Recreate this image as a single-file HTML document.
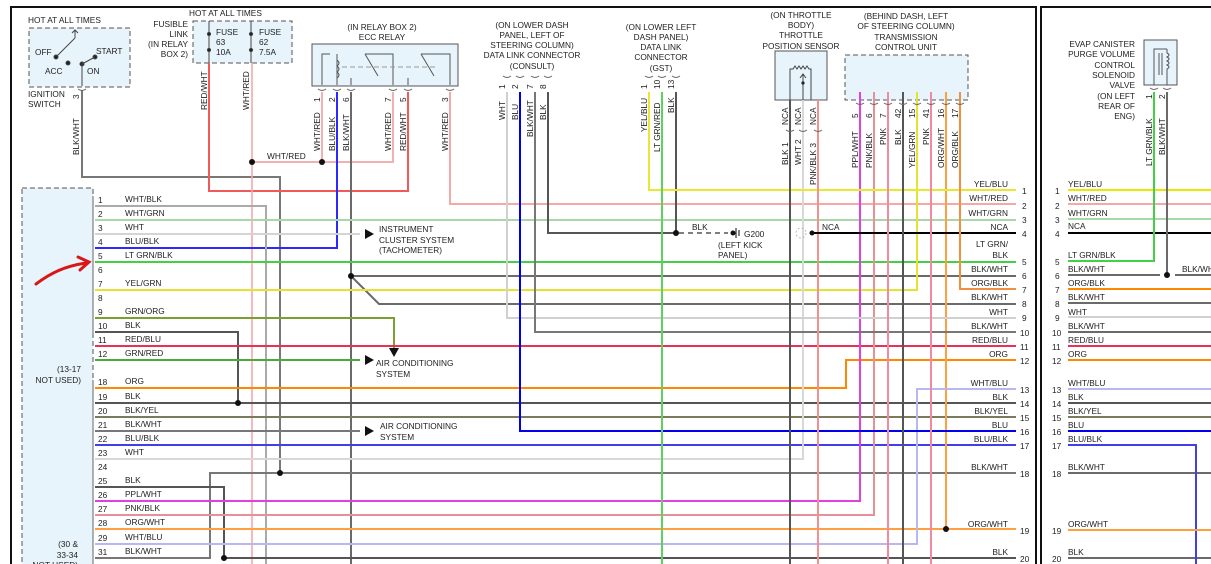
<!DOCTYPE html>
<html><head><meta charset="utf-8"><style>
html,body{margin:0;padding:0;background:#fff;}
svg{display:block;font-family:"Liberation Sans",sans-serif;font-size:8.3px;fill:#222;}
.w{fill:none;stroke-width:2;}
.t{fill:none;stroke-width:1.6;}
.r{text-anchor:end}.m{text-anchor:middle}
</style></head><body>
<svg width="1211" height="564" viewBox="0 0 1211 564" xmlns="http://www.w3.org/2000/svg">
<!-- frames -->
<path d="M11,564 V7 H1036 V564" fill="none" stroke="#111" stroke-width="2"/>
<path d="M1041,564 V7 H1211" fill="none" stroke="#111" stroke-width="2"/>

<!-- component boxes -->
<rect x="29" y="28" width="101" height="59" fill="#e8f4fb" stroke="#555" stroke-dasharray="5,3"/>
<rect x="193" y="21" width="99" height="42" fill="#e8f4fb" stroke="#555" stroke-dasharray="5,3"/>
<rect x="312" y="44" width="146" height="42" fill="#e8f4fb" stroke="#555"/>
<rect x="775" y="51" width="52" height="49" fill="#e8f4fb" stroke="#555"/>
<rect x="845" y="55" width="123" height="45" fill="#e8f4fb" stroke="#555" stroke-dasharray="5,3"/>
<rect x="1144" y="40" width="33" height="45" fill="#e8f4fb" stroke="#555"/>
<rect x="22" y="188" width="71" height="380" fill="#e8f4fb" stroke="#555" stroke-dasharray="5,3"/>

<!-- ignition switch internals -->
<g stroke="#444" fill="#222">
<line x1="56" y1="57" x2="75" y2="38"/><path d="M72,33 l3,-3 l3,3" fill="none"/><line x1="75" y1="30" x2="75" y2="38"/>
<circle cx="56" cy="57" r="2"/><circle cx="68" cy="63" r="2"/><circle cx="82" cy="64" r="2"/><circle cx="95" cy="57" r="2"/>
<line x1="82" y1="64" x2="95" y2="57"/><line x1="82" y1="64" x2="82" y2="86"/>
</g>
<!-- fuses -->
<g stroke="#444" fill="#222">
<line x1="209" y1="21" x2="209" y2="63"/><line x1="251" y1="21" x2="251" y2="63"/>
<circle cx="209" cy="34" r="1.6"/><circle cx="209" cy="50" r="1.6"/><circle cx="251" cy="34" r="1.6"/><circle cx="251" cy="50" r="1.6"/>
</g>
<!-- relay internals -->
<g stroke="#555" fill="none">
<path d="M322,85 V54 H330 M337,85 V54 M351,85 V78 M365,54 L378,76 M393,85 V54 H365 M408,85 V78 M421,54 L434,76 M450,85 V54 H421"/>
<path d="M337,60 q4,3 0,6 q4,3 0,6 q4,3 0,6" />
<path d="M342,67 H438" stroke-dasharray="5,3" stroke="#999"/>
</g>
<!-- TPS internals -->
<g stroke="#444" fill="none"><path d="M790,100 V69 H793 l2,-3 l2,3 l2,-3 l2,3 l2,-3 l2,3 l2,-3 l2,3 h2 V100 M803,100 V74 M800,78 l3,-4 l3,4"/></g>
<circle cx="803" cy="83" r="1.6" fill="#222"/>
<!-- evap internals -->
<g stroke="#555" fill="none"><path d="M1154,85 V49 H1167 M1159,53 V75 M1162,53 V75 M1167,49 v4 q4,2 0,4 q4,2 0,4 q4,2 0,4 q4,2 0,4 V85"/></g>

<!-- WIRES -->
<g class="w">
<path d="M82,90 V177 H280 V473" stroke="#777"/>
<path d="M209,63 V191 H408 V92" stroke="#f05a5a"/>
<path d="M252,63 V564" stroke="#f4a8a8" class="t"/>
<path d="M252,162 H393 V92 M322,92 V162" stroke="#f4b0b0"/>
<path d="M337,92 V248 H95" stroke="#2a2aff"/>
<path d="M351,92 V564 M351,276 H1016 M351,276 L379,304 H1016" stroke="#6a6a6a"/>
<path d="M450,92 V204 H1016" stroke="#f4a8a8"/>
<path d="M95,206 H266 V564" stroke="#aaa"/>
<path d="M95,220 H1016" stroke="#a8d8a8"/>
<path d="M95,234 H360" stroke="#d4d4d4"/>
<path d="M95,262 H1016" stroke="#44d044"/>
<path d="M95,290 H917 V92" stroke="#e4e430"/>
<path d="M95,318 H394 V348" stroke="#7aa030"/>
<path d="M95,332 H238 V403" stroke="#555"/>
<path d="M95,346 H1016" stroke="#e8305a"/>
<path d="M95,360 H360" stroke="#4aaa3a"/>
<path d="M95,388 H846 V360 H1016" stroke="#ff8800"/>
<path d="M95,403 H1016" stroke="#555"/>
<path d="M95,417 H1016" stroke="#7a7a60"/>
<path d="M95,431 H360" stroke="#777"/>
<path d="M95,445 H1016" stroke="#4040e8"/>
<path d="M95,459 H803 V100" stroke="#d8d8d8"/>
<path d="M95,558 H210 V473 H1016" stroke="#777"/>
<path d="M95,487 H224 V558 H1016" stroke="#555"/>
<path d="M95,501 H860 V92" stroke="#e040e0"/>
<path d="M95,515 H874 V92" stroke="#e89098"/>
<path d="M95,529 H1016 M946,92 V529" stroke="#ffa040"/>
<path d="M95,544 H917 V389 H1016" stroke="#b8b8f0"/>
<path d="M507,92 V318 H1016" stroke="#d0d0d0"/>
<path d="M520,92 V431 H1016" stroke="#0000ee"/>
<path d="M535,92 V332 H1016" stroke="#777"/>
<path d="M548,92 V233 H676 V92" stroke="#555"/>
<path d="M649,92 V190 H1016" stroke="#e8e830"/>
<path d="M662,92 V564" stroke="#60d060"/>
<path d="M790,100 V564" stroke="#555"/>
<path d="M818,100 V564" stroke="#f09090"/>
<path d="M812,233 H1016" stroke="#000"/>
<path d="M888,92 V564 M931,92 V564" stroke="#f08aa0"/>
<path d="M903,92 V564" stroke="#555"/>
<path d="M960,92 V289 H1016" stroke="#f09040"/>
<!-- right frame -->
<path d="M1068,190 H1211" stroke="#e8e800"/>
<path d="M1068,204 H1211" stroke="#f4a8a8"/>
<path d="M1068,219 H1211" stroke="#a8d8a8"/>
<path d="M1068,233 H1211" stroke="#000"/>
<path d="M1068,261 H1154 V92" stroke="#44d044"/>
<path d="M1068,275 H1160 M1175,275 H1211 M1167,92 V275" stroke="#6a6a6a"/>
<path d="M1068,289 H1211 M1068,360 H1211" stroke="#ff8800"/>
<path d="M1068,303 H1211 M1068,332 H1211 M1068,473 H1211 M1068,558 H1211" stroke="#6a6a6a"/>
<path d="M1068,317 H1211" stroke="#d0d0d0"/>
<path d="M1068,346 H1211" stroke="#e8305a"/>
<path d="M1068,389 H1211" stroke="#b8b8f0"/>
<path d="M1068,403 H1211" stroke="#555"/>
<path d="M1068,417 H1211" stroke="#7a7a60"/>
<path d="M1068,431 H1211" stroke="#0000ee"/>
<path d="M1068,445 H1196 V564" stroke="#4040e8"/>
<path d="M1068,530 H1211" stroke="#ffa040"/>
</g>
<!-- dots -->
<g fill="#111">
<circle cx="252" cy="162" r="3"/><circle cx="322" cy="162" r="3"/><circle cx="351" cy="276" r="3"/>
<circle cx="238" cy="403" r="3"/><circle cx="280" cy="473" r="3"/><circle cx="224" cy="558" r="3"/>
<circle cx="676" cy="233" r="3"/><circle cx="946" cy="529" r="3"/><circle cx="812" cy="233" r="2.5"/>
<circle cx="1167" cy="275" r="3"/><circle cx="733" cy="233" r="2.5"/>
</g>
<!-- ground, NCA -->
<path d="M679,233 H728" stroke="#555" stroke-width="1.5" stroke-dasharray="5,4" fill="none"/>
<path d="M736,228 V238 M739,230 V236" stroke="#333" stroke-width="1.2"/>
<circle cx="801" cy="233" r="5" fill="none" stroke="#bbb" stroke-dasharray="2,2"/>
<!-- arrows -->
<g fill="#111"><path d="M365,229 L374,234 L365,239Z"/><path d="M365,355 L374,360 L365,365Z"/><path d="M365,426 L374,431 L365,436Z"/><path d="M389,348 L399,348 L394,357Z"/></g>
<!-- red annotation arrow -->
<path d="M36,284 C52,272 66,266 86,263" stroke="#d81818" stroke-width="3" fill="none" stroke-linecap="round"/>
<path d="M78,257 L89,262 L80,270" stroke="#d81818" stroke-width="3" fill="none" stroke-linecap="round"/>
<!-- pin caps -->
<g stroke="#666" fill="none" stroke-width="1">
<path d="M78,89 q4,3 8,0 M318,89 q4,3 8,0 M333,89 q4,3 8,0 M347,89 q4,3 8,0 M389,89 q4,3 8,0 M404,89 q4,3 8,0 M446,89 q4,3 8,0 M503,76 q4,3 8,0 M516,76 q4,3 8,0 M531,76 q4,3 8,0 M544,76 q4,3 8,0 M645,76 q4,3 8,0 M658,76 q4,3 8,0 M672,76 q4,3 8,0 M856,103 q4,3 8,0 M870,103 q4,3 8,0 M884,103 q4,3 8,0 M899,103 q4,3 8,0 M913,103 q4,3 8,0 M927,103 q4,3 8,0 M942,103 q4,3 8,0 M956,103 q4,3 8,0 M786,130 q4,3 8,0 M799,130 q4,3 8,0 M814,130 q4,3 8,0 M1150,88 q4,3 8,0 M1163,88 q4,3 8,0"/>
<path d="M93,196 v138 M93,380 v184"/>
</g>

<!-- TOP LABELS -->
<text x="28" y="23">HOT AT ALL TIMES</text>
<text x="35" y="55">OFF</text><text x="96" y="54">START</text><text x="45" y="74">ACC</text><text x="87" y="74">ON</text>
<text x="28" y="97">IGNITION</text><text x="28" y="107">SWITCH</text>
<text transform="translate(79,99) rotate(-90)">3</text>
<text transform="translate(79,155) rotate(-90)">BLK/WHT</text>
<text x="189" y="16">HOT AT ALL TIMES</text>
<text class="r" x="188" y="27">FUSIBLE</text><text class="r" x="188" y="37">LINK</text><text class="r" x="188" y="47">(IN RELAY</text><text class="r" x="188" y="57">BOX 2)</text>
<text x="216" y="35">FUSE</text><text x="216" y="45">63</text><text x="216" y="55">10A</text>
<text x="259" y="35">FUSE</text><text x="259" y="45">62</text><text x="259" y="55">7.5A</text>
<text transform="translate(207,110) rotate(-90)">RED/WHT</text>
<text transform="translate(249,110) rotate(-90)">WHT/RED</text>
<text class="m" x="382" y="30">(IN RELAY BOX 2)</text><text class="m" x="382" y="40">ECC RELAY</text>
<text transform="translate(320,102) rotate(-90)">1</text><text transform="translate(335,102) rotate(-90)">2</text><text transform="translate(349,102) rotate(-90)">6</text>
<text transform="translate(391,102) rotate(-90)">7</text><text transform="translate(406,102) rotate(-90)">5</text><text transform="translate(448,102) rotate(-90)">3</text>
<text transform="translate(320,151) rotate(-90)">WHT/RED</text><text transform="translate(335,151) rotate(-90)">BLU/BLK</text><text transform="translate(349,151) rotate(-90)">BLK/WHT</text>
<text transform="translate(391,151) rotate(-90)">WHT/RED</text><text transform="translate(406,151) rotate(-90)">RED/WHT</text><text transform="translate(448,151) rotate(-90)">WHT/RED</text>
<text x="267" y="159">WHT/RED</text>

<text class="m" x="532" y="28">(ON LOWER DASH</text><text class="m" x="532" y="38">PANEL, LEFT OF</text><text class="m" x="532" y="48">STEERING COLUMN)</text><text class="m" x="532" y="58">DATA LINK CONNECTOR</text><text class="m" x="532" y="69">(CONSULT)</text>
<text transform="translate(505,89) rotate(-90)">1</text><text transform="translate(518,89) rotate(-90)">2</text><text transform="translate(533,89) rotate(-90)">7</text><text transform="translate(546,89) rotate(-90)">8</text>
<text transform="translate(505,120) rotate(-90)">WHT</text><text transform="translate(518,120) rotate(-90)">BLU</text><text transform="translate(533,137) rotate(-90)">BLK/WHT</text><text transform="translate(546,120) rotate(-90)">BLK</text>
<text class="m" x="661" y="30">(ON LOWER LEFT</text><text class="m" x="661" y="40">DASH PANEL)</text><text class="m" x="661" y="50">DATA LINK</text><text class="m" x="661" y="60">CONNECTOR</text><text class="m" x="661" y="71">(GST)</text>
<text transform="translate(647,89) rotate(-90)">1</text><text transform="translate(660,89) rotate(-90)">10</text><text transform="translate(674,89) rotate(-90)">13</text>
<text transform="translate(647,132) rotate(-90)">YEL/BLU</text><text transform="translate(660,152) rotate(-90)">LT GRN/RED</text><text transform="translate(674,113) rotate(-90)">BLK</text>
<text class="m" x="801" y="18">(ON THROTTLE</text><text class="m" x="801" y="28">BODY)</text><text class="m" x="801" y="38">THROTTLE</text><text class="m" x="801" y="49">POSITION SENSOR</text>
<text transform="translate(788,125) rotate(-90)">NCA</text><text transform="translate(801,125) rotate(-90)">NCA</text><text transform="translate(816,125) rotate(-90)">NCA</text>
<text transform="translate(788,165) rotate(-90)">BLK  1</text><text transform="translate(801,165) rotate(-90)">WHT  2</text><text transform="translate(816,185) rotate(-90)">PNK/BLK  3</text>
<text class="m" x="906" y="19">(BEHIND DASH, LEFT</text><text class="m" x="906" y="29">OF STEERING COLUMN)</text><text class="m" x="906" y="40">TRANSMISSION</text><text class="m" x="906" y="50">CONTROL UNIT</text>
<g>
<text transform="translate(858,118) rotate(-90)">5</text><text transform="translate(872,118) rotate(-90)">6</text><text transform="translate(886,118) rotate(-90)">7</text><text transform="translate(901,118) rotate(-90)">42</text><text transform="translate(915,118) rotate(-90)">15</text><text transform="translate(929,118) rotate(-90)">41</text><text transform="translate(944,118) rotate(-90)">16</text><text transform="translate(958,118) rotate(-90)">17</text>
<text transform="translate(858,168) rotate(-90)">PPL/WHT</text><text transform="translate(872,168) rotate(-90)">PNK/BLK</text><text transform="translate(886,145) rotate(-90)">PNK</text><text transform="translate(901,145) rotate(-90)">BLK</text><text transform="translate(915,168) rotate(-90)">YEL/GRN</text><text transform="translate(929,145) rotate(-90)">PNK</text><text transform="translate(944,168) rotate(-90)">ORG/WHT</text><text transform="translate(958,168) rotate(-90)">ORG/BLK</text>
</g>
<g class="r">
<text class="r" x="1135" y="47">EVAP CANISTER</text><text class="r" x="1135" y="57">PURGE VOLUME</text><text class="r" x="1135" y="68">CONTROL</text><text class="r" x="1135" y="78">SOLENOID</text><text class="r" x="1135" y="88">VALVE</text><text class="r" x="1135" y="99">(ON LEFT</text><text class="r" x="1135" y="109">REAR OF</text><text class="r" x="1135" y="119">ENG)</text>
</g>
<text transform="translate(1152,99) rotate(-90)">1</text><text transform="translate(1165,99) rotate(-90)">2</text>
<text transform="translate(1152,166) rotate(-90)">LT GRN/BLK</text><text transform="translate(1165,155) rotate(-90)">BLK/WHT</text>

<!-- mid labels -->
<text x="379" y="232">INSTRUMENT</text><text x="379" y="243">CLUSTER SYSTEM</text><text x="379" y="253">(TACHOMETER)</text>
<text x="376" y="366">AIR CONDITIONING</text><text x="376" y="377">SYSTEM</text>
<text x="380" y="429">AIR CONDITIONING</text><text x="380" y="440">SYSTEM</text>
<text x="692" y="230">BLK</text><text x="744" y="237">G200</text><text x="718" y="248">(LEFT KICK</text><text x="718" y="258">PANEL)</text>
<text x="822" y="230">NCA</text>

<!-- left connector labels -->
<g>
<text x="98" y="203">1</text><text x="125" y="202">WHT/BLK</text>
<text x="98" y="217">2</text><text x="125" y="216">WHT/GRN</text>
<text x="98" y="231">3</text><text x="125" y="230">WHT</text>
<text x="98" y="245">4</text><text x="125" y="244">BLU/BLK</text>
<text x="98" y="259">5</text><text x="125" y="258">LT GRN/BLK</text>
<text x="98" y="273">6</text>
<text x="98" y="287">7</text><text x="125" y="286">YEL/GRN</text>
<text x="98" y="301">8</text>
<text x="98" y="315">9</text><text x="125" y="314">GRN/ORG</text>
<text x="98" y="329">10</text><text x="125" y="328">BLK</text>
<text x="98" y="343">11</text><text x="125" y="342">RED/BLU</text>
<text x="98" y="357">12</text><text x="125" y="356">GRN/RED</text>
<text x="98" y="385">18</text><text x="125" y="384">ORG</text>
<text x="98" y="400">19</text><text x="125" y="399">BLK</text>
<text x="98" y="414">20</text><text x="125" y="413">BLK/YEL</text>
<text x="98" y="428">21</text><text x="125" y="427">BLK/WHT</text>
<text x="98" y="442">22</text><text x="125" y="441">BLU/BLK</text>
<text x="98" y="456">23</text><text x="125" y="455">WHT</text>
<text x="98" y="470">24</text>
<text x="98" y="484">25</text><text x="125" y="483">BLK</text>
<text x="98" y="498">26</text><text x="125" y="497">PPL/WHT</text>
<text x="98" y="512">27</text><text x="125" y="511">PNK/BLK</text>
<text x="98" y="526">28</text><text x="125" y="525">ORG/WHT</text>
<text x="98" y="541">29</text><text x="125" y="540">WHT/BLU</text>
<text x="98" y="555">31</text><text x="125" y="554">BLK/WHT</text>
<text class="r" x="81" y="372">(13-17</text><text class="r" x="81" y="383">NOT USED)</text>
<text class="r" x="78" y="547">(30 &amp;</text><text class="r" x="78" y="558">33-34</text><text class="r" x="78" y="568">NOT USED)</text>
</g>
<!-- right labels (left frame) -->
<g>
<text class="r" x="1008" y="187">YEL/BLU</text><text class="r" x="1008" y="201">WHT/RED</text><text class="r" x="1008" y="216">WHT/GRN</text><text class="r" x="1008" y="230">NCA</text>
<text class="r" x="1008" y="247">LT GRN/</text><text class="r" x="1008" y="258">BLK</text><text class="r" x="1008" y="272">BLK/WHT</text><text class="r" x="1008" y="286">ORG/BLK</text><text class="r" x="1008" y="300">BLK/WHT</text>
<text class="r" x="1008" y="315">WHT</text><text class="r" x="1008" y="329">BLK/WHT</text><text class="r" x="1008" y="343">RED/BLU</text><text class="r" x="1008" y="357">ORG</text>
<text class="r" x="1008" y="386">WHT/BLU</text><text class="r" x="1008" y="400">BLK</text><text class="r" x="1008" y="414">BLK/YEL</text><text class="r" x="1008" y="428">BLU</text><text class="r" x="1008" y="442">BLU/BLK</text>
<text class="r" x="1008" y="470">BLK/WHT</text><text class="r" x="1008" y="527">ORG/WHT</text><text class="r" x="1008" y="555">BLK</text>
</g>
<g>
<text x="1022" y="194">1</text><text x="1022" y="209">2</text><text x="1022" y="223">3</text><text x="1022" y="237">4</text><text x="1022" y="265">5</text><text x="1022" y="279">6</text><text x="1022" y="293">7</text><text x="1022" y="307">8</text><text x="1022" y="321">9</text><text x="1020" y="336">10</text><text x="1020" y="350">11</text><text x="1020" y="364">12</text><text x="1020" y="393">13</text><text x="1020" y="407">14</text><text x="1020" y="421">15</text><text x="1020" y="435">16</text><text x="1020" y="449">17</text><text x="1020" y="477">18</text><text x="1020" y="534">19</text><text x="1020" y="562">20</text>
</g>
<!-- right frame labels -->
<g>
<text x="1055" y="194">1</text><text x="1055" y="209">2</text><text x="1055" y="223">3</text><text x="1055" y="237">4</text><text x="1055" y="265">5</text><text x="1055" y="279">6</text><text x="1055" y="293">7</text><text x="1055" y="307">8</text><text x="1055" y="321">9</text><text x="1052" y="336">10</text><text x="1052" y="350">11</text><text x="1052" y="364">12</text><text x="1052" y="393">13</text><text x="1052" y="407">14</text><text x="1052" y="421">15</text><text x="1052" y="435">16</text><text x="1052" y="449">17</text><text x="1052" y="477">18</text><text x="1052" y="534">19</text><text x="1052" y="562">20</text>
<text x="1068" y="187">YEL/BLU</text><text x="1068" y="201">WHT/RED</text><text x="1068" y="216">WHT/GRN</text><text x="1068" y="229">NCA</text>
<text x="1068" y="258">LT GRN/BLK</text><text x="1068" y="272">BLK/WHT</text><text x="1182" y="272">BLK/WHT</text><text x="1068" y="286">ORG/BLK</text><text x="1068" y="300">BLK/WHT</text>
<text x="1068" y="315">WHT</text><text x="1068" y="329">BLK/WHT</text><text x="1068" y="343">RED/BLU</text><text x="1068" y="357">ORG</text>
<text x="1068" y="386">WHT/BLU</text><text x="1068" y="400">BLK</text><text x="1068" y="414">BLK/YEL</text><text x="1068" y="428">BLU</text><text x="1068" y="442">BLU/BLK</text>
<text x="1068" y="470">BLK/WHT</text><text x="1068" y="527">ORG/WHT</text><text x="1068" y="555">BLK</text>
</g>
</svg>
</body></html>
